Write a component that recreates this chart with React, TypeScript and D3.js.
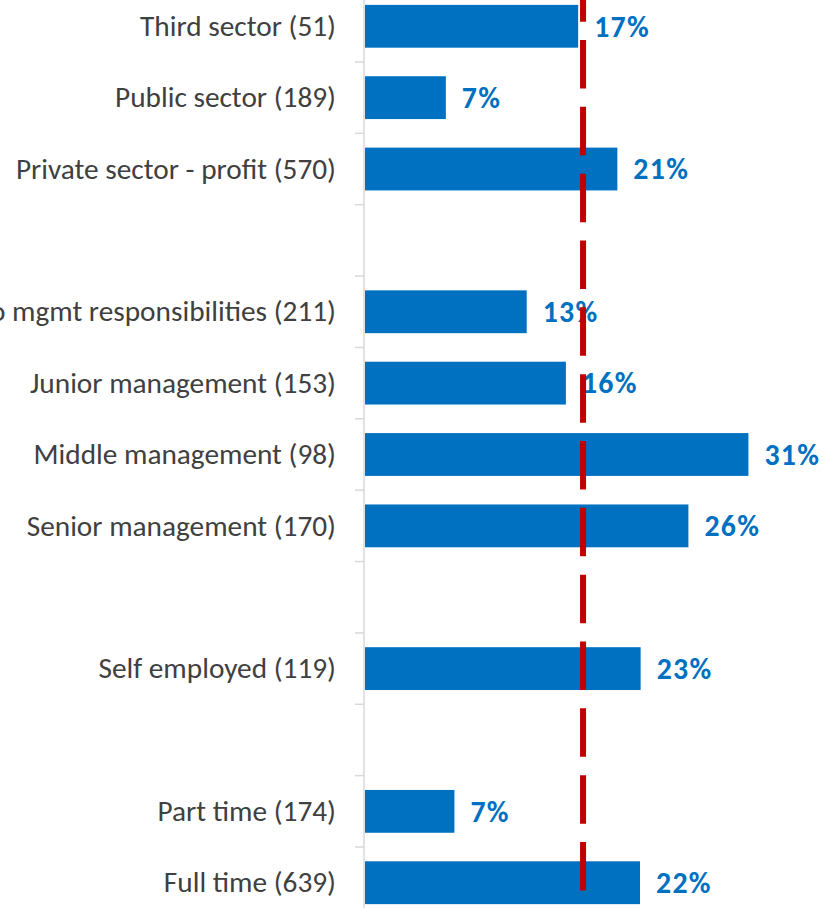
import React from "react";
import * as d3 from "d3";

const categories = [
  "Third sector (51)",
  "Public sector (189)",
  "Private sector - profit (570)",
  "",
  "No mgmt responsibilities (211)",
  "Junior management (153)",
  "Middle management (98)",
  "Senior management (170)",
  "",
  "Self employed (119)",
  "",
  "Part time (174)",
  "Full time (639)",
];

const values: (number | null)[] = [17.4, 6.6, 20.6, null, 13.2, 16.4, 31.3, 26.4, null, 22.5, null, 7.3, 22.45];

const averageValue = 17.8;

const W = 827;
const H = 908;
const FONT = "Carlito, Calibri, Lato, 'Open Sans', sans-serif";

export default function App() {
  const keys = categories.map((c, i) => `${i}|${c}`);
  const y = d3
    .scaleBand<string>()
    .domain(keys)
    .range([-9.4, 918.4])
    .paddingInner(0.4)
    .paddingOuter(0.2);
  const x = d3.scaleLinear().domain([0, 40]).range([365, 855]);
  const step = y.step();
  const rangeTop = y.range()[0];
  const boundaries = d3.range(categories.length + 1).map((k) => rangeTop + k * step);
  const axisX = 364;
  const fmt = (v: number) => `${Math.round(v)}%`;

  return (
    <svg
      width={W}
      height={H}
      style={{ position: "absolute", left: 0, top: 0, display: "block", background: "#fff" }}
    >
      {/* axis line and ticks */}
      <line x1={axisX} x2={axisX} y1={0} y2={H} stroke="#D9D9D9" strokeWidth={1.5} />
      {boundaries.map((b, i) => (
        <line key={`t${i}`} x1={axisX - 9} x2={axisX} y1={b} y2={b} stroke="#D9D9D9" strokeWidth={1.5} />
      ))}
      {/* category labels */}
      {keys.map((k, i) => {
        const c = categories[i];
        if (!c) return null;
        const cy = (y(k) as number) + y.bandwidth() / 2;
        return (
          <text
            key={`l${i}`}
            x={336}
            y={cy}
            dy={9.7}
            textAnchor="end"
            fontFamily={FONT}
            fontSize={29.3}
            fill="#404040"
          >
            {c}
          </text>
        );
      })}
      {/* bars */}
      {keys.map((k, i) => {
        const v = values[i];
        if (v == null) return null;
        return (
          <rect
            key={`b${i}`}
            x={x(0)}
            y={y(k)}
            width={x(v) - x(0)}
            height={y.bandwidth()}
            fill="#0070C0"
          />
        );
      })}
      {/* value labels */}
      {keys.map((k, i) => {
        const v = values[i];
        if (v == null) return null;
        const cy = (y(k) as number) + y.bandwidth() / 2;
        return (
          <text
            key={`v${i}`}
            x={x(v) + 16}
            y={cy}
            dy={10.3}
            fontFamily={FONT}
            fontWeight="bold"
            fontSize={29.8}
            letterSpacing={1.3}
            fill="#0070C0"
          >
            {fmt(v)}
          </text>
        );
      })}
      {/* average line */}
      <line
        x1={x(averageValue)}
        x2={x(averageValue)}
        y1={-26.8}
        y2={H + 20}
        stroke="#C00000"
        strokeWidth={6}
        strokeDasharray="48.5 18.33"
      />
    </svg>
  );
}
